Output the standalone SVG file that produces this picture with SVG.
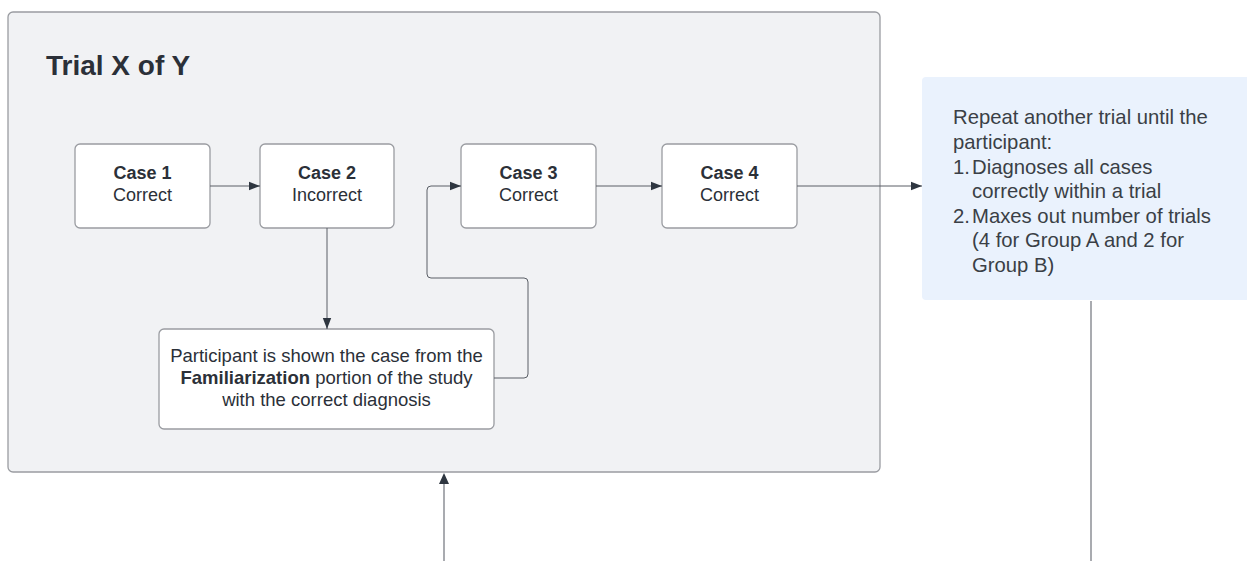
<svg xmlns="http://www.w3.org/2000/svg" width="1247" height="561" viewBox="0 0 1247 561">
<defs>
<marker id="ah" markerWidth="12" markerHeight="10" refX="11" refY="5" orient="auto" markerUnits="userSpaceOnUse">
<path d="M0,0.8 L11,5 L0,9.2 Z" fill="#2e3640"/>
</marker>
<style>
text{font-family:"Liberation Sans",Arial,sans-serif;fill:#2b3038}
.box{fill:#ffffff;stroke:#9a9ca1;stroke-width:1.3}
.b{font-weight:bold}
.c{font-size:18px;text-anchor:middle}
.f{font-size:18.5px;text-anchor:middle}
.conn{fill:none;stroke:#5a5f66;stroke-width:1}
.gray{fill:none;stroke:#a9abb0;stroke-width:2}
.blue{font-size:20.3px;fill:#3a3f46}
</style>
</defs>
<rect width="1247" height="561" fill="#ffffff"/>
<g id="trial">
<rect x="8" y="12" width="872" height="460" rx="5" fill="#f1f2f4" stroke="#9a9ca1" stroke-width="1.3"/>
<text x="46" y="75" class="b" style="font-size:28px">Trial X of Y</text>
</g>
<g id="case1">
<rect class="box" x="75" y="144" width="135" height="84" rx="5"/>
<text class="c b" x="142.5" y="179">Case 1</text>
<text class="c" x="142.5" y="201">Correct</text>
</g>
<g id="case2">
<rect class="box" x="260" y="144" width="134" height="84" rx="5"/>
<text class="c b" x="327" y="179">Case 2</text>
<text class="c" x="327" y="201">Incorrect</text>
</g>
<g id="case3">
<rect class="box" x="461" y="144" width="135" height="84" rx="5"/>
<text class="c b" x="528.5" y="179">Case 3</text>
<text class="c" x="528.5" y="201">Correct</text>
</g>
<g id="case4">
<rect class="box" x="662" y="144" width="135" height="84" rx="5"/>
<text class="c b" x="729.5" y="179">Case 4</text>
<text class="c" x="729.5" y="201">Correct</text>
</g>
<g id="familiarization">
<rect class="box" x="159" y="329" width="335" height="100" rx="5"/>
<text class="f" x="326.5" y="362">Participant is shown the case from the</text>
<text class="f" x="326.5" y="384"><tspan class="b">Familiarization</tspan> portion of the study</text>
<text class="f" x="326.5" y="406">with the correct diagnosis</text>
</g>
<g id="repeat">
<rect x="922" y="77" width="340" height="223" rx="4" fill="#eaf2fd"/>
<text class="blue" x="953" y="124">Repeat another trial until the</text>
<text class="blue" x="953" y="149">participant:</text>
<text class="blue" x="953" y="174">1.</text>
<text class="blue" x="972" y="174">Diagnoses all cases</text>
<text class="blue" x="972" y="198">correctly within a trial</text>
<text class="blue" x="953" y="223">2.</text>
<text class="blue" x="972" y="223">Maxes out number of trials</text>
<text class="blue" x="972" y="247">(4 for Group A and 2 for</text>
<text class="blue" x="972" y="272">Group B)</text>
</g>
<g id="connectors">
<path class="conn" d="M210,186 H260" marker-end="url(#ah)"/>
<path class="conn" d="M596,186 H662" marker-end="url(#ah)"/>
<path class="conn" d="M797,186 H922" marker-end="url(#ah)"/>
<path class="conn" d="M327,228 V329" marker-end="url(#ah)"/>
<path class="conn" d="M494,378 H524 Q528,378 528,374 V282 Q528,278 524,278 H431 Q427,278 427,274 V190 Q427,186 431,186 H461" marker-end="url(#ah)"/>
<path class="gray" d="M444,561 V484"/>
<path d="M444,473 L449,484 L439,484 Z" fill="#2e3640"/>
<path class="gray" d="M1091,301 V561"/>
</g>
</svg>
